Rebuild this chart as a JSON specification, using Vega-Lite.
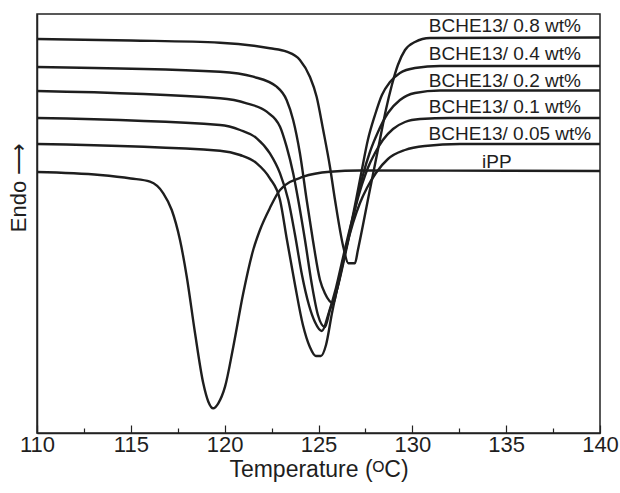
{
  "$schema": "https://vega.github.io/schema/vega-lite/v6.json",
  "width": 563,
  "height": 419,
  "autosize": "none",
  "padding": {"left": 37, "top": 14, "right": 20, "bottom": 60},
  "background": "white",
  "config": {
    "view": {"stroke": "#222", "strokeWidth": 1.5},
    "font": "Liberation Sans"
  },
  "datasets": {
    "curves": [
      {"s": "iPP", "T": 110.0, "h": 261},
      {"s": "iPP", "T": 113.36, "h": 258},
      {"s": "iPP", "T": 115.0, "h": 254.5},
      {"s": "iPP", "T": 116.02, "h": 251.3},
      {"s": "iPP", "T": 116.73, "h": 239.7},
      {"s": "iPP", "T": 117.18, "h": 223},
      {"s": "iPP", "T": 117.62, "h": 193},
      {"s": "iPP", "T": 117.98, "h": 156.3},
      {"s": "iPP", "T": 118.42, "h": 100},
      {"s": "iPP", "T": 118.86, "h": 49.7},
      {"s": "iPP", "T": 119.13, "h": 31.3},
      {"s": "iPP", "T": 119.39, "h": 24.7},
      {"s": "iPP", "T": 119.66, "h": 29.7},
      {"s": "iPP", "T": 120.02, "h": 46.3},
      {"s": "iPP", "T": 120.46, "h": 86.3},
      {"s": "iPP", "T": 120.99, "h": 139.7},
      {"s": "iPP", "T": 121.52, "h": 183},
      {"s": "iPP", "T": 121.88, "h": 203},
      {"s": "iPP", "T": 122.41, "h": 225},
      {"s": "iPP", "T": 122.95, "h": 243},
      {"s": "iPP", "T": 124.19, "h": 256.3},
      {"s": "iPP", "T": 125.61, "h": 261.3},
      {"s": "iPP", "T": 127.21, "h": 262.5},
      {"s": "iPP", "T": 140.0, "h": 262},

      {"s": "0.8", "T": 110.0, "h": 394},
      {"s": "0.8", "T": 115.0, "h": 392.5},
      {"s": "0.8", "T": 119.75, "h": 390.3},
      {"s": "0.8", "T": 122.41, "h": 384.7},
      {"s": "0.8", "T": 123.30, "h": 381.3},
      {"s": "0.8", "T": 124.01, "h": 373},
      {"s": "0.8", "T": 124.54, "h": 356.3},
      {"s": "0.8", "T": 124.90, "h": 336.3},
      {"s": "0.8", "T": 125.25, "h": 303},
      {"s": "0.8", "T": 125.61, "h": 266.3},
      {"s": "0.8", "T": 125.88, "h": 233},
      {"s": "0.8", "T": 126.32, "h": 186.3},
      {"s": "0.8", "T": 126.59, "h": 169.7},
      {"s": "0.8", "T": 126.94, "h": 169.7},
      {"s": "0.8", "T": 127.10, "h": 183},
      {"s": "0.8", "T": 127.37, "h": 208},
      {"s": "0.8", "T": 127.63, "h": 233},
      {"s": "0.8", "T": 127.95, "h": 263},
      {"s": "0.8", "T": 128.27, "h": 293},
      {"s": "0.8", "T": 128.59, "h": 323},
      {"s": "0.8", "T": 128.91, "h": 348},
      {"s": "0.8", "T": 129.23, "h": 368},
      {"s": "0.8", "T": 129.61, "h": 383},
      {"s": "0.8", "T": 130.14, "h": 391},
      {"s": "0.8", "T": 130.94, "h": 395},
      {"s": "0.8", "T": 140.0, "h": 395.5},

      {"s": "0.4", "T": 110.0, "h": 366},
      {"s": "0.4", "T": 119.75, "h": 361.3},
      {"s": "0.4", "T": 121.52, "h": 356.3},
      {"s": "0.4", "T": 122.77, "h": 346.3},
      {"s": "0.4", "T": 123.30, "h": 333},
      {"s": "0.4", "T": 123.65, "h": 313},
      {"s": "0.4", "T": 124.01, "h": 279.7},
      {"s": "0.4", "T": 124.37, "h": 233},
      {"s": "0.4", "T": 124.70, "h": 193},
      {"s": "0.4", "T": 125.08, "h": 153},
      {"s": "0.4", "T": 125.34, "h": 139.7},
      {"s": "0.4", "T": 125.79, "h": 129.7},
      {"s": "0.4", "T": 125.98, "h": 143},
      {"s": "0.4", "T": 126.30, "h": 170},
      {"s": "0.4", "T": 126.68, "h": 203},
      {"s": "0.4", "T": 127.00, "h": 233},
      {"s": "0.4", "T": 127.31, "h": 263},
      {"s": "0.4", "T": 127.63, "h": 293},
      {"s": "0.4", "T": 128.01, "h": 318},
      {"s": "0.4", "T": 128.38, "h": 338},
      {"s": "0.4", "T": 128.81, "h": 351},
      {"s": "0.4", "T": 129.34, "h": 360},
      {"s": "0.4", "T": 130.14, "h": 365},
      {"s": "0.4", "T": 131.47, "h": 367},
      {"s": "0.4", "T": 140.0, "h": 367},

      {"s": "0.2", "T": 110.0, "h": 342},
      {"s": "0.2", "T": 119.75, "h": 334.7},
      {"s": "0.2", "T": 121.17, "h": 329.7},
      {"s": "0.2", "T": 122.24, "h": 321.3},
      {"s": "0.2", "T": 122.95, "h": 306.3},
      {"s": "0.2", "T": 123.30, "h": 286.3},
      {"s": "0.2", "T": 123.65, "h": 259.7},
      {"s": "0.2", "T": 123.92, "h": 233},
      {"s": "0.2", "T": 124.28, "h": 193},
      {"s": "0.2", "T": 124.65, "h": 148},
      {"s": "0.2", "T": 124.97, "h": 118},
      {"s": "0.2", "T": 125.34, "h": 106},
      {"s": "0.2", "T": 125.61, "h": 123},
      {"s": "0.2", "T": 125.98, "h": 143},
      {"s": "0.2", "T": 126.36, "h": 173},
      {"s": "0.2", "T": 126.68, "h": 201},
      {"s": "0.2", "T": 127.05, "h": 233},
      {"s": "0.2", "T": 127.37, "h": 258},
      {"s": "0.2", "T": 127.74, "h": 281},
      {"s": "0.2", "T": 128.17, "h": 301},
      {"s": "0.2", "T": 128.70, "h": 320},
      {"s": "0.2", "T": 129.34, "h": 333},
      {"s": "0.2", "T": 130.14, "h": 340},
      {"s": "0.2", "T": 131.47, "h": 342.5},
      {"s": "0.2", "T": 140.0, "h": 342.5},

      {"s": "0.1", "T": 110.0, "h": 315},
      {"s": "0.1", "T": 119.75, "h": 308},
      {"s": "0.1", "T": 120.82, "h": 303},
      {"s": "0.1", "T": 121.71, "h": 294.7},
      {"s": "0.1", "T": 122.41, "h": 279.7},
      {"s": "0.1", "T": 122.95, "h": 259.7},
      {"s": "0.1", "T": 123.39, "h": 233},
      {"s": "0.1", "T": 123.75, "h": 198},
      {"s": "0.1", "T": 124.12, "h": 158},
      {"s": "0.1", "T": 124.49, "h": 128},
      {"s": "0.1", "T": 124.81, "h": 111},
      {"s": "0.1", "T": 125.18, "h": 102},
      {"s": "0.1", "T": 125.56, "h": 121},
      {"s": "0.1", "T": 125.93, "h": 145},
      {"s": "0.1", "T": 126.30, "h": 175},
      {"s": "0.1", "T": 126.68, "h": 205},
      {"s": "0.1", "T": 127.00, "h": 228},
      {"s": "0.1", "T": 127.31, "h": 248},
      {"s": "0.1", "T": 127.63, "h": 265},
      {"s": "0.1", "T": 128.01, "h": 280},
      {"s": "0.1", "T": 128.43, "h": 293},
      {"s": "0.1", "T": 128.97, "h": 304},
      {"s": "0.1", "T": 129.61, "h": 311},
      {"s": "0.1", "T": 130.41, "h": 314},
      {"s": "0.1", "T": 132.00, "h": 315},
      {"s": "0.1", "T": 140.0, "h": 315},

      {"s": "0.05", "T": 110.0, "h": 289},
      {"s": "0.05", "T": 119.75, "h": 282.3},
      {"s": "0.05", "T": 120.82, "h": 278},
      {"s": "0.05", "T": 121.71, "h": 269.7},
      {"s": "0.05", "T": 122.41, "h": 254.7},
      {"s": "0.05", "T": 122.95, "h": 233},
      {"s": "0.05", "T": 123.32, "h": 193},
      {"s": "0.05", "T": 123.75, "h": 148},
      {"s": "0.05", "T": 124.17, "h": 108},
      {"s": "0.05", "T": 124.54, "h": 86},
      {"s": "0.05", "T": 124.86, "h": 77},
      {"s": "0.05", "T": 125.13, "h": 77},
      {"s": "0.05", "T": 125.40, "h": 88},
      {"s": "0.05", "T": 125.72, "h": 120},
      {"s": "0.05", "T": 126.09, "h": 153},
      {"s": "0.05", "T": 126.46, "h": 184},
      {"s": "0.05", "T": 126.84, "h": 210},
      {"s": "0.05", "T": 127.21, "h": 230},
      {"s": "0.05", "T": 127.58, "h": 245},
      {"s": "0.05", "T": 128.06, "h": 260},
      {"s": "0.05", "T": 128.70, "h": 274},
      {"s": "0.05", "T": 129.61, "h": 283},
      {"s": "0.05", "T": 130.67, "h": 287},
      {"s": "0.05", "T": 132.54, "h": 289},
      {"s": "0.05", "T": 140.0, "h": 289}
    ],
    "labels": [
      {"label": "BCHE13/ 0.8 wt%", "T": 134.93, "h": 401.5},
      {"label": "BCHE13/ 0.4 wt%", "T": 134.93, "h": 373},
      {"label": "BCHE13/ 0.2 wt%", "T": 134.93, "h": 346},
      {"label": "BCHE13/ 0.1 wt%", "T": 134.93, "h": 320},
      {"label": "BCHE13/ 0.05 wt%", "T": 135.2, "h": 293},
      {"label": "iPP", "T": 134.5, "h": 265}
    ]
  },
  "resolve": {"axis": {"x": "independent", "y": "independent"}},
  "layer": [
    {
      "data": {"name": "curves"},
      "mark": {"type": "line", "color": "#1e1e1e", "strokeWidth": 2.4, "interpolate": "monotone"},
      "encoding": {
        "x": {
          "field": "T", "type": "quantitative",
          "scale": {"domain": [110, 140], "nice": false, "zero": false},
          "axis": {
            "values": [110, 115, 120, 125, 130, 135, 140],
            "tickSize": -8, "tickWidth": 1.2, "tickColor": "#222",
            "domainColor": "#222", "domainWidth": 1.5,
            "labelFontSize": 22, "labelColor": "#1e1e1e", "labelPadding": 9,
            "labelFlush": false, "labelOverlap": false,
            "grid": false,
            "title": "Temperature (ᴼC)", "titleFontSize": 23, "titleFontWeight": "normal",
            "titleColor": "#1e1e1e", "titlePadding": 3
          }
        },
        "y": {
          "field": "h", "type": "quantitative",
          "scale": {"domain": [0, 419], "nice": false, "zero": false},
          "axis": {
            "ticks": false, "labels": false, "grid": false,
            "domainColor": "#222", "domainWidth": 1.5,
            "title": "Endo ⟶", "titleFontSize": 22, "titleFontWeight": "normal",
            "titleColor": "#1e1e1e", "titlePadding": 7, "titleY": 173
          }
        },
        "detail": {"field": "s", "type": "nominal"}
      }
    },
    {
      "data": {"name": "labels"},
      "mark": {"type": "text", "fontSize": 19, "color": "#1e1e1e", "align": "center", "baseline": "alphabetic"},
      "encoding": {
        "x": {
          "field": "T", "type": "quantitative",
          "scale": {"domain": [110, 140], "nice": false, "zero": false},
          "axis": {
            "orient": "bottom",
            "values": [112.5, 117.5, 122.5, 127.5, 132.5, 137.5],
            "tickSize": -5, "tickWidth": 1.2, "tickColor": "#222",
            "domain": false, "labels": false, "grid": false, "title": null
          }
        },
        "y": {
          "field": "h", "type": "quantitative",
          "scale": {"domain": [0, 419], "nice": false, "zero": false},
          "axis": null
        },
        "text": {"field": "label"}
      }
    }
  ]
}
